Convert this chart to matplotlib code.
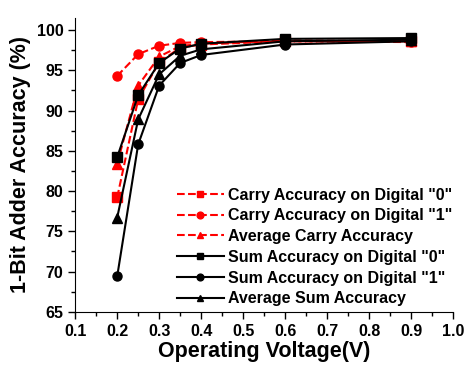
import matplotlib
matplotlib.use('Agg')
import matplotlib.pyplot as plt
from matplotlib.ticker import MultipleLocator

plt.rcParams['font.family'] = ['Liberation Sans', 'DejaVu Sans']
plt.rcParams['font.weight'] = 'bold'

voltage = [0.2, 0.25, 0.3, 0.35, 0.4, 0.6, 0.9]
carry_0 = [79.2, 91.4, 96.0, 97.8, 98.2, 98.6, 98.6]
carry_1 = [94.3, 97.0, 98.05, 98.4, 98.5, 98.6, 98.5]
carry_avg = [83.4, 93.1, 96.7, 98.0, 98.3, 98.7, 98.6]
sum_0 = [84.2, 91.9, 95.9, 97.7, 98.3, 98.9, 99.0]
sum_1 = [69.4, 85.8, 93.1, 95.9, 96.9, 98.2, 98.6]
sum_avg = [76.7, 88.9, 94.5, 96.8, 97.6, 98.6, 98.8]

fig = plt.figure(figsize=(4.7, 3.66), dpi=100)
ax = fig.add_axes([0.16, 0.148, 0.804, 0.803])

red = '#ff0000'
ax.plot(voltage, carry_0, '--s', color=red, lw=1.5, ms=6.5, label='Carry Accuracy on Digital "0"')
ax.plot(voltage, carry_1, '--o', color=red, lw=1.5, ms=6.5, label='Carry Accuracy on Digital "1"')
ax.plot(voltage, carry_avg, '--^', color=red, lw=1.5, ms=6.5, label='Average Carry Accuracy')
ax.plot(voltage, sum_0, '-s', color='black', lw=1.5, ms=6.5, label='Sum Accuracy on Digital "0"')
ax.plot(voltage, sum_1, '-o', color='black', lw=1.5, ms=6.5, label='Sum Accuracy on Digital "1"')
ax.plot(voltage, sum_avg, '-^', color='black', lw=1.5, ms=6.5, label='Average Sum Accuracy')

ax.set_xlim(0.1, 1.0)
ax.set_ylim(65, 101.5)
ax.xaxis.set_minor_locator(MultipleLocator(0.05))
ax.yaxis.set_major_locator(MultipleLocator(5))
ax.yaxis.set_minor_locator(MultipleLocator(2.5))
ax.set_xticks([0.1, 0.2, 0.3, 0.4, 0.5, 0.6, 0.7, 0.8, 0.9, 1.0])
ax.set_xticklabels(['0.1', '0.2', '0.3', '0.4', '0.5', '0.6', '0.7', '0.8', '0.9', '1.0'])
ax.tick_params(which='major', direction='out', length=5, width=1, labelsize=11.5)
ax.tick_params(which='minor', direction='out', length=3, width=1)
for lab in ax.get_xticklabels() + ax.get_yticklabels():
    lab.set_fontweight('bold')

ax.spines['top'].set_visible(False)
ax.spines['right'].set_visible(False)

ax.set_xlabel('Operating Voltage(V)', fontsize=15.5, fontweight='bold', labelpad=2)
ax.set_ylabel('1-Bit Adder Accuracy (%)', fontsize=15.5, fontweight='bold', labelpad=4)

leg = ax.legend(loc='lower right', bbox_to_anchor=(1.037, -0.03), frameon=False,
                fontsize=11.5, handlelength=3.0, handletextpad=0.25,
                labelspacing=0.36, markerscale=0.75)
for t in leg.get_texts():
    t.set_fontweight('bold')

fig.savefig('out.png', dpi=100)
